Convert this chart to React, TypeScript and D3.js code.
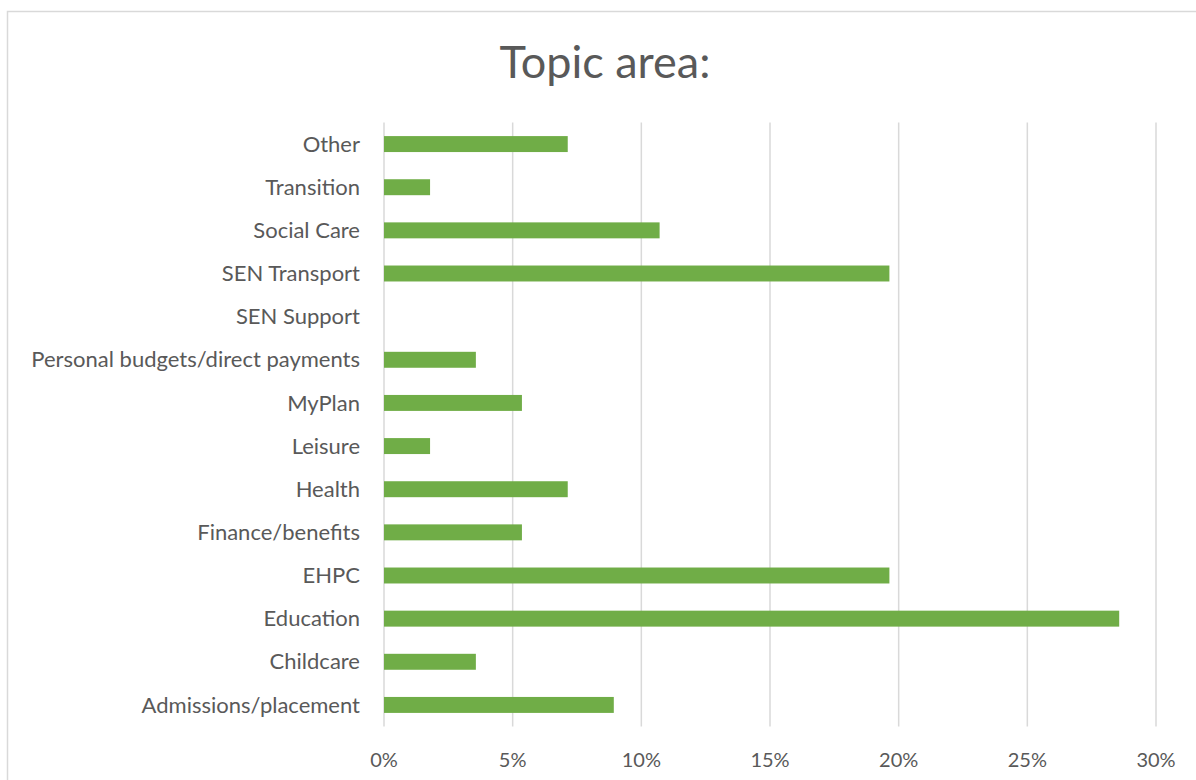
import React, { useEffect, useRef } from 'react';
import * as d3 from 'd3';

// categories from top to bottom
const categories = [
  'Other',
  'Transition',
  'Social Care',
  'SEN Transport',
  'SEN Support',
  'Personal budgets/direct payments',
  'MyPlan',
  'Leisure',
  'Health',
  'Finance/benefits',
  'EHPC',
  'Education',
  'Childcare',
  'Admissions/placement',
];

const shares = [
  0.0714, 0.0179, 0.1071, 0.1964, 0, 0.0357, 0.0536, 0.0179, 0.0714, 0.0536,
  0.1964, 0.2857, 0.0357, 0.0893,
];

const ticks = [0, 0.05, 0.1, 0.15, 0.2, 0.25, 0.3];

export default function App() {
  const svgRef = useRef<SVGSVGElement>(null);

  useEffect(() => {
    const svg = d3.select(svgRef.current);
    svg.selectAll('*').remove();

    const font = 'Lato, "Noto Sans", sans-serif';
    const textColor = '#595959';

    // chart frame
    svg.append('rect')
      .attr('x', 7.5)
      .attr('y', 11.5)
      .attr('width', 1200)
      .attr('height', 800)
      .attr('fill', '#fff')
      .attr('stroke', '#d9d9d9')
      .attr('stroke-width', 1.5);

    svg.append('text')
      .attr('x', 605)
      .attr('y', 78)
      .attr('text-anchor', 'middle')
      .attr('font-family', font)
      .attr('font-size', 45)
      .attr('fill', textColor)
      .text('Topic area:');

    const x = d3.scaleLinear().domain([0, 0.3]).range([384, 1156]);
    const y = d3.scaleBand()
      .domain(categories)
      .range([122.5, 726.5])
      .paddingInner(0.63)
      .paddingOuter(0.315);

    // gridlines
    svg.append('g')
      .selectAll('line')
      .data(ticks)
      .join('line')
      .attr('x1', d => x(d))
      .attr('x2', d => x(d))
      .attr('y1', 122.5)
      .attr('y2', 726.5)
      .attr('stroke', '#d9d9d9')
      .attr('stroke-width', 1.5);

    svg.append('g')
      .selectAll('rect')
      .data(shares)
      .join('rect')
      .attr('x', x(0))
      .attr('y', (d, i) => y(categories[i])!)
      .attr('width', d => x(d) - x(0))
      .attr('height', y.bandwidth())
      .attr('fill', '#70ad47');

    // category labels
    svg.append('g')
      .selectAll('text')
      .data(categories)
      .join('text')
      .attr('x', 360)
      .attr('y', d => y(d)! + y.bandwidth() / 2)
      .attr('dy', '0.35em')
      .attr('text-anchor', 'end')
      .attr('font-family', font)
      .attr('font-size', 22)
      .attr('fill', textColor)
      .text(d => d);

    // x tick labels
    svg.append('g')
      .selectAll('text')
      .data(ticks)
      .join('text')
      .attr('x', d => x(d))
      .attr('y', 767)
      .attr('text-anchor', 'middle')
      .attr('font-family', font)
      .attr('font-size', 20)
      .attr('fill', textColor)
      .text(d => d3.format('.0%')(d));
  }, []);

  return (
    <svg
      ref={svgRef}
      width={1196}
      height={780}
      style={{ position: 'absolute', left: 0, top: 0 }}
    />
  );
}
